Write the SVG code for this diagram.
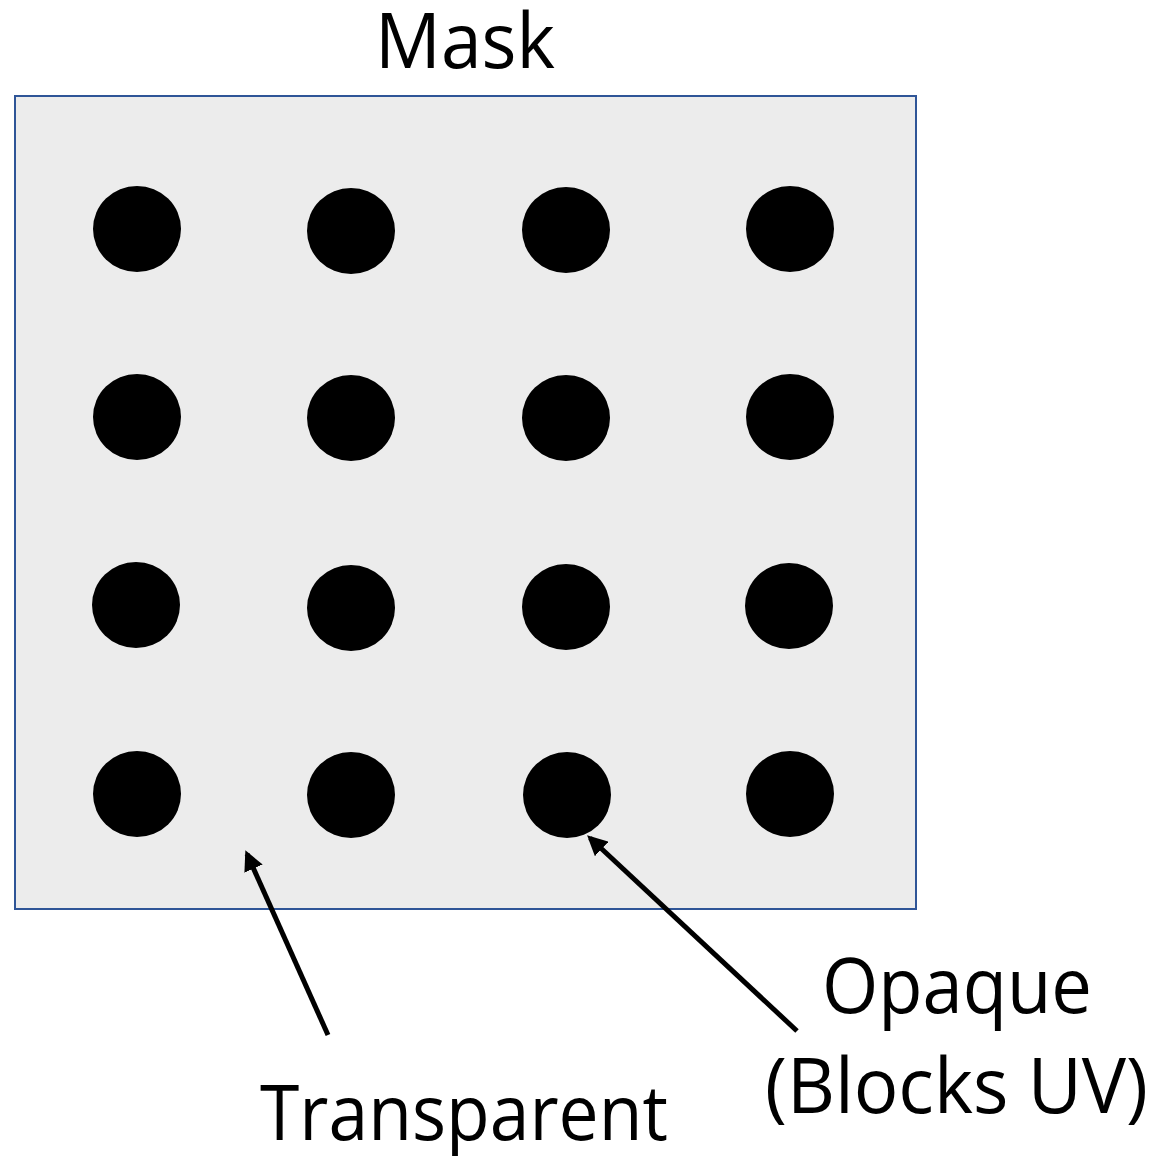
<svg xmlns="http://www.w3.org/2000/svg" width="1160" height="1156" viewBox="0 0 1160 1156">
  <style>
    .label { font-family: "Open Sans", "Liberation Sans", sans-serif; font-size: 76px; fill: #000; }
    .dot { fill: #000; }
    .pointer { stroke: #000; stroke-width: 5; fill: none; }
  </style>
  <defs>
    <marker id="head" viewBox="0 0 10 10" refX="8" refY="5" markerWidth="4" markerHeight="4" orient="auto" markerUnits="strokeWidth">
      <path d="M0,0 L10,5 L0,10 z" fill="#000"/>
    </marker>
  </defs>
  <rect width="1160" height="1156" fill="#fff"/>

  <g id="mask">
    <rect x="15" y="96" width="901" height="813" fill="#ececec" stroke="#2f5597" stroke-width="2"/>
    <text class="label" x="465" y="68" text-anchor="middle" textLength="180" lengthAdjust="spacingAndGlyphs">Mask</text>
  </g>

  <g id="dots">
    <ellipse class="dot" cx="137" cy="229" rx="44" ry="43"/>
    <ellipse class="dot" cx="351" cy="231" rx="44" ry="43"/>
    <ellipse class="dot" cx="566" cy="230" rx="44" ry="43"/>
    <ellipse class="dot" cx="790" cy="229" rx="44" ry="43"/>
    <ellipse class="dot" cx="137" cy="417" rx="44" ry="43"/>
    <ellipse class="dot" cx="351" cy="418" rx="44" ry="43"/>
    <ellipse class="dot" cx="566" cy="418" rx="44" ry="43"/>
    <ellipse class="dot" cx="790" cy="417" rx="44" ry="43"/>
    <ellipse class="dot" cx="136" cy="605" rx="44" ry="43"/>
    <ellipse class="dot" cx="351" cy="608" rx="44" ry="43"/>
    <ellipse class="dot" cx="566" cy="607" rx="44" ry="43"/>
    <ellipse class="dot" cx="789" cy="606" rx="44" ry="43"/>
    <ellipse class="dot" cx="137" cy="794" rx="44" ry="43"/>
    <ellipse class="dot" cx="351" cy="795" rx="44" ry="43"/>
    <ellipse class="dot" cx="567" cy="795" rx="44" ry="43"/>
    <ellipse class="dot" cx="790" cy="794" rx="44" ry="43"/>
  </g>

  <g id="connectors">
    <line class="pointer" x1="328" y1="1035" x2="247" y2="854" marker-end="url(#head)"/>
    <line class="pointer" x1="797" y1="1031" x2="590" y2="838" marker-end="url(#head)"/>
  </g>

  <g id="transparent-label">
    <text class="label" x="260" y="1140" textLength="408" lengthAdjust="spacingAndGlyphs">Transparent</text>
  </g>

  <g id="opaque-label">
    <text class="label" x="822" y="1013" textLength="270" lengthAdjust="spacingAndGlyphs">Opaque</text>
    <text class="label" x="765" y="1113" textLength="383" lengthAdjust="spacingAndGlyphs">(Blocks UV)</text>
  </g>
</svg>
